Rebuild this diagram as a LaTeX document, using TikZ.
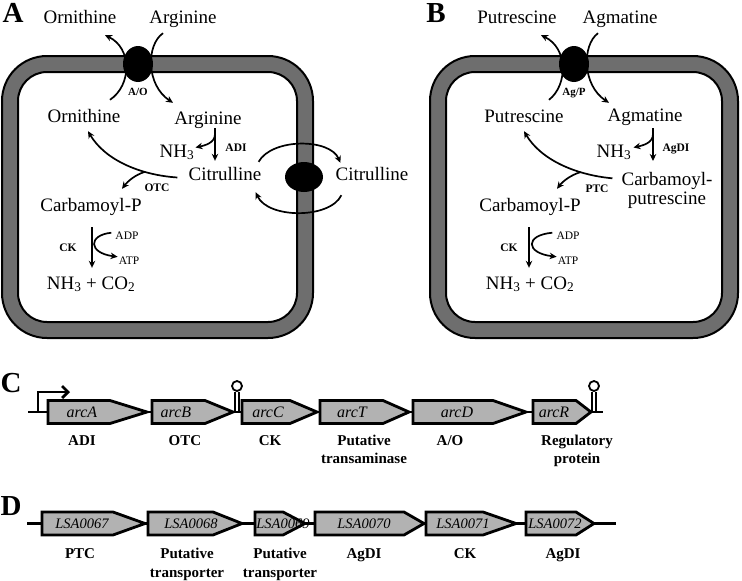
\documentclass[tikz,border=0pt]{standalone}
\usepackage{fontspec}
\setmainfont{Liberation Serif}
\usepackage{xcolor}
\usetikzlibrary{arrows.meta, shapes.geometric}
\definecolor{wallgray}{RGB}{110,110,110}
\definecolor{genegray}{RGB}{178,178,178}
\tikzstyle{outerwall} = [draw=black, fill=wallgray, line width=2pt, rounded corners=45pt]
\tikzstyle{innerwall} = [draw=black, fill=white, line width=2pt, rounded corners=29pt]
\tikzstyle{pump} = [ellipse, fill=black, inner sep=0pt]
\tikzstyle{metab} = [font=\fontsize{19}{19}\selectfont, inner sep=0pt, anchor=base, text height=13pt, text depth=4pt]
\tikzstyle{metabtwo} = [font=\fontsize{19}{19}\selectfont, inner sep=0pt, anchor=north, align=center]
\tikzstyle{enzyme} = [font=\bfseries\fontsize{11.5}{12}\selectfont, inner sep=0pt, anchor=base]
\tikzstyle{cofactor} = [font=\fontsize{11.5}{12}\selectfont, inner sep=0pt, anchor=base, text height=8.5pt, text depth=0pt]
\tikzstyle{arrow} = [line width=1.7pt, -{Stealth[length=7pt,width=6.5pt]}]
\tikzstyle{panel} = [font=\bfseries\fontsize{29}{29}\selectfont, inner sep=0pt, anchor=base]
\tikzstyle{backbone} = [line width=2.8pt]
\tikzstyle{promoter} = [line width=2.8pt, -{Straight Barb[length=6pt,width=12pt]}]
\tikzstyle{geneline} = [draw=black, line width=2.8pt, line join=miter]
\tikzstyle{genename} = [font=\itshape\fontsize{16}{16}\selectfont, inner sep=0pt]
\tikzstyle{product} = [font=\bfseries\fontsize{15}{17.5}\selectfont, inner sep=0pt, anchor=north, align=center]
\tikzstyle{hairpin} = [circle, draw=black, line width=1.8pt, minimum size=10pt, inner sep=0pt]
\tikzstyle{stem} = [line width=1.5pt]

% gene arrow: name, row y, left x, body end x, tip x, text x, text
\newcommand{\gene}[7]{%
  \fill[genegray] (#3,#2-11.5) -- (#4,#2-11.5) -- (#5,#2) -- (#4,#2+11.5) -- (#3,#2+11.5) -- cycle;
  \node[genename] (#1) at (#6,#2) {#7};
  \draw[geneline] (#3,#2-11.5) -- (#4,#2-11.5) -- (#5,#2) -- (#4,#2+11.5) -- (#3,#2+11.5) -- cycle;
}

\begin{document}
\begin{tikzpicture}[x=1pt, y=-1pt]
    \useasboundingbox (0,0) rectangle (742,581);

    % Panel A: cell
    \draw[outerwall] (2,56) rectangle (313,338);
    \draw[innerwall] (18,72) rectangle (297,322);
    \node[pump, minimum width=30pt, minimum height=36pt] (ao) at (138,64) {};
    \node[pump, minimum width=38pt, minimum height=30pt] (ct) at (304,177) {};
    \node[panel] (labA) at (13,22) {A};

    % Panel A: metabolites
    \node[metab] (ornOut) at (80,23) {Ornithine};
    \node[metab] (argOut) at (183,23) {Arginine};
    \node[metab] (ornA) at (84,122) {Ornithine};
    \node[metab] (argA) at (208,124) {Arginine};
    \node[metab] (nhA) at (177,157) {NH\textsubscript{3}};
    \node[metab] (citA) at (225,180) {Citrulline};
    \node[metab] (citOut) at (372,180) {Citrulline};
    \node[metab] (cpA) at (91,211) {Carbamoyl-P};
    \node[metab] (prodA) at (91,289) {NH\textsubscript{3} + CO\textsubscript{2}};
    \node[cofactor] (adpA) at (127,239) {ADP};
    \node[cofactor] (atpA) at (129,264) {ATP};

    % Panel A: enzymes
    \node[enzyme, font=\bfseries\fontsize{11}{12}\selectfont] (aoLab) at (138,95) {A/O};
    \node[enzyme] (adi) at (236,151) {ADI};
    \node[enzyme] (otc) at (157,191) {OTC};
    \node[enzyme] (ckA) at (68,251) {CK};

    % Panel A: transport
    \draw[arrow] ([xshift=26pt,yshift=9pt]ornA.north) .. controls (132,85) and (132,48) .. ([xshift=25pt,yshift=-8pt]ornOut.south);
    \draw[arrow] ([xshift=-20pt,yshift=-6pt]argOut.south) .. controls (146,45) and (146,85) .. ([xshift=-35pt,yshift=8pt]argA.north);
    \draw[arrow] ([xshift=-3pt,yshift=5pt]citA.north east) .. controls (272,138) and (330,138) .. ([xshift=5pt,yshift=4pt]citOut.north west);
    \draw[arrow] ([xshift=6pt,yshift=-11pt]citOut.south west) .. controls (330,219) and (268,219) .. ([xshift=-6pt,yshift=-8pt]citA.south east);

    % Panel A: reactions
    \draw[arrow] ([xshift=7pt]argA.south) -- coordinate[pos=0.18] (adiFork) ([xshift=-10pt,yshift=6pt]citA.north);
    \draw[arrow] (adiFork) .. controls +(0,9) and +(9,-2) .. ([xshift=1pt,yshift=5pt]nhA.east);
    \draw[arrow] ([xshift=-11pt,yshift=-2pt]citA.west) .. controls (140,175) and (105,160) .. coordinate[pos=0.3] (otcFork) ([xshift=4pt,yshift=-5pt]ornA.south);
    \draw[arrow] (otcFork) .. controls (135,175) and (128,181) .. ([xshift=31pt,yshift=9pt]cpA.north);
    \draw[arrow] ([xshift=1pt,yshift=-12pt]cpA.south) -- ([xshift=1pt,yshift=8pt]prodA.north);
    \draw[arrow] ([xshift=-4pt,yshift=2pt]adpA.west) .. controls (88,235) and (88,253) .. ([xshift=-1pt,yshift=3pt]atpA.west);

    % Panel B: cell
    \draw[outerwall] (430,56) rectangle (738,338);
    \draw[innerwall] (446,72) rectangle (722,322);
    \node[pump, minimum width=30pt, minimum height=36pt] (agp) at (574,64) {};
    \node[panel] (labB) at (436,22) {B};

    % Panel B: metabolites
    \node[metab] (putOut) at (517,23) {Putrescine};
    \node[metab] (agmOut) at (620,23) {Agmatine};
    \node[metab] (putB) at (524,122) {Putrescine};
    \node[metab] (agmB) at (645,121) {Agmatine};
    \node[metab] (nhB) at (614,157) {NH\textsubscript{3}};
    \node[metabtwo] (cpuB) at (667,172) {Carbamoyl-\\putrescine};
    \node[metab] (cpB) at (530,211) {Carbamoyl-P};
    \node[metab] (prodB) at (530,289) {NH\textsubscript{3} + CO\textsubscript{2}};
    \node[cofactor] (adpB) at (568,239) {ADP};
    \node[cofactor] (atpB) at (568,264) {ATP};

    % Panel B: enzymes
    \node[enzyme, font=\bfseries\fontsize{11}{12}\selectfont] (agpLab) at (574,95) {Ag/P};
    \node[enzyme] (agdi) at (676,151) {AgDI};
    \node[enzyme] (ptc) at (597,192) {PTC};
    \node[enzyme] (ckB) at (509,251) {CK};

    % Panel B: transport
    \draw[arrow] ([xshift=25pt,yshift=9pt]putB.north) .. controls (568,85) and (568,48) .. ([xshift=24pt,yshift=-8pt]putOut.south);
    \draw[arrow] ([xshift=-22pt,yshift=-6pt]agmOut.south) .. controls (582,45) and (582,85) .. ([xshift=-36pt,yshift=5pt]agmB.north);

    % Panel B: reactions
    \draw[arrow] ([xshift=8pt,yshift=-3pt]agmB.south) -- coordinate[pos=0.18] (agdiFork) ([xshift=-14pt,yshift=11pt]cpuB.north);
    \draw[arrow] (agdiFork) .. controls +(0,9) and +(9,-2) .. ([xshift=2pt,yshift=5pt]nhB.east);
    \draw[arrow] ([xshift=-9pt,yshift=12pt]cpuB.west) .. controls (576,175) and (541,160) .. coordinate[pos=0.3] (ptcFork) ([yshift=-5pt]putB.south);
    \draw[arrow] (ptcFork) .. controls (571,175) and (563,181) .. ([xshift=27pt,yshift=9pt]cpB.north);
    \draw[arrow] ([xshift=-1pt,yshift=-12pt]cpB.south) -- ([xshift=-1pt,yshift=8pt]prodB.north);
    \draw[arrow] ([xshift=-4pt,yshift=2pt]adpB.west) .. controls (525,235) and (525,253) .. ([xshift=-1pt,yshift=3pt]atpB.west);

    % Panel C: arc operon
    \node[panel] (labC) at (11,392) {C};
    \coordinate (cStart) at (28,412);
    \coordinate (cEnd) at (603,412);
    \coordinate (prom) at (38,412);
    \coordinate (promTip) at (70,392);
    \draw[backbone] (cStart) -- (cEnd);
    \draw[promoter] (prom) |- (promTip);
    \gene{arcA}{412}{48}{110}{147}{82}{arcA}
    \gene{arcB}{412}{152}{205}{233}{176}{arcB}
    \gene{arcC}{412}{242}{290}{317}{268}{arcC}
    \gene{arcT}{412}{320}{383}{409}{352}{arcT}
    \gene{arcD}{412}{413}{493}{526}{457}{arcD}
    \gene{arcR}{412}{533}{576}{591}{554}{arcR}
    \node[hairpin] (termBC) at (237,386) {};
    \draw[stem] (termBC.south) ++(-2,0) -- ++(0,20);
    \draw[stem] (termBC.south) ++(2,0) -- ++(0,20);
    \node[hairpin] (termR) at (594,386) {};
    \draw[stem] (termR.south) ++(-2,0) -- ++(0,20);
    \draw[stem] (termR.south) ++(2,0) -- ++(0,20);
    \node[product] (pArcA) at (82,435) {ADI};
    \node[product] (pArcB) at (185,435) {OTC};
    \node[product] (pArcC) at (270,435) {CK};
    \node[product] (pArcT) at (364,435) {Putative\\transaminase};
    \node[product] (pArcD) at (450,435) {A/O};
    \node[product] (pArcR) at (577,435) {Regulatory\\protein};

    % Panel D: LSA cluster
    \node[panel] (labD) at (11,515) {D};
    \coordinate (dStart) at (27,523.5);
    \coordinate (dEnd) at (616,523.5);
    \draw[backbone] (dStart) -- (dEnd);
    \begin{scope}[genename/.style={font=\itshape\fontsize{14.5}{15}\selectfont, inner sep=0pt}]
    \gene{lsa67}{523.5}{42}{113}{145}{82}{LSA0067}
    \gene{lsa68}{523.5}{148}{213}{242}{191}{LSA0068}
    \gene{lsa69}{523.5}{255}{283}{305}{283}{LSA0069}
    \gene{lsa70}{523.5}{315}{404}{424}{364}{LSA0070}
    \gene{lsa71}{523.5}{426}{483}{516}{463}{LSA0071}
    \gene{lsa72}{523.5}{526}{576}{594}{555}{LSA0072}
    \end{scope}
    \node[product, font=\bfseries\fontsize{15}{18.5}\selectfont] (p67) at (80,548) {PTC};
    \node[product, font=\bfseries\fontsize{15}{18.5}\selectfont] (p68) at (187,548) {Putative\\transporter};
    \node[product, font=\bfseries\fontsize{15}{18.5}\selectfont] (p69) at (280,548) {Putative\\transporter};
    \node[product, font=\bfseries\fontsize{15}{18.5}\selectfont] (p70) at (364,548) {AgDI};
    \node[product, font=\bfseries\fontsize{15}{18.5}\selectfont] (p71) at (465,548) {CK};
    \node[product, font=\bfseries\fontsize{15}{18.5}\selectfont] (p72) at (563,548) {AgDI};
\end{tikzpicture}
\end{document}
